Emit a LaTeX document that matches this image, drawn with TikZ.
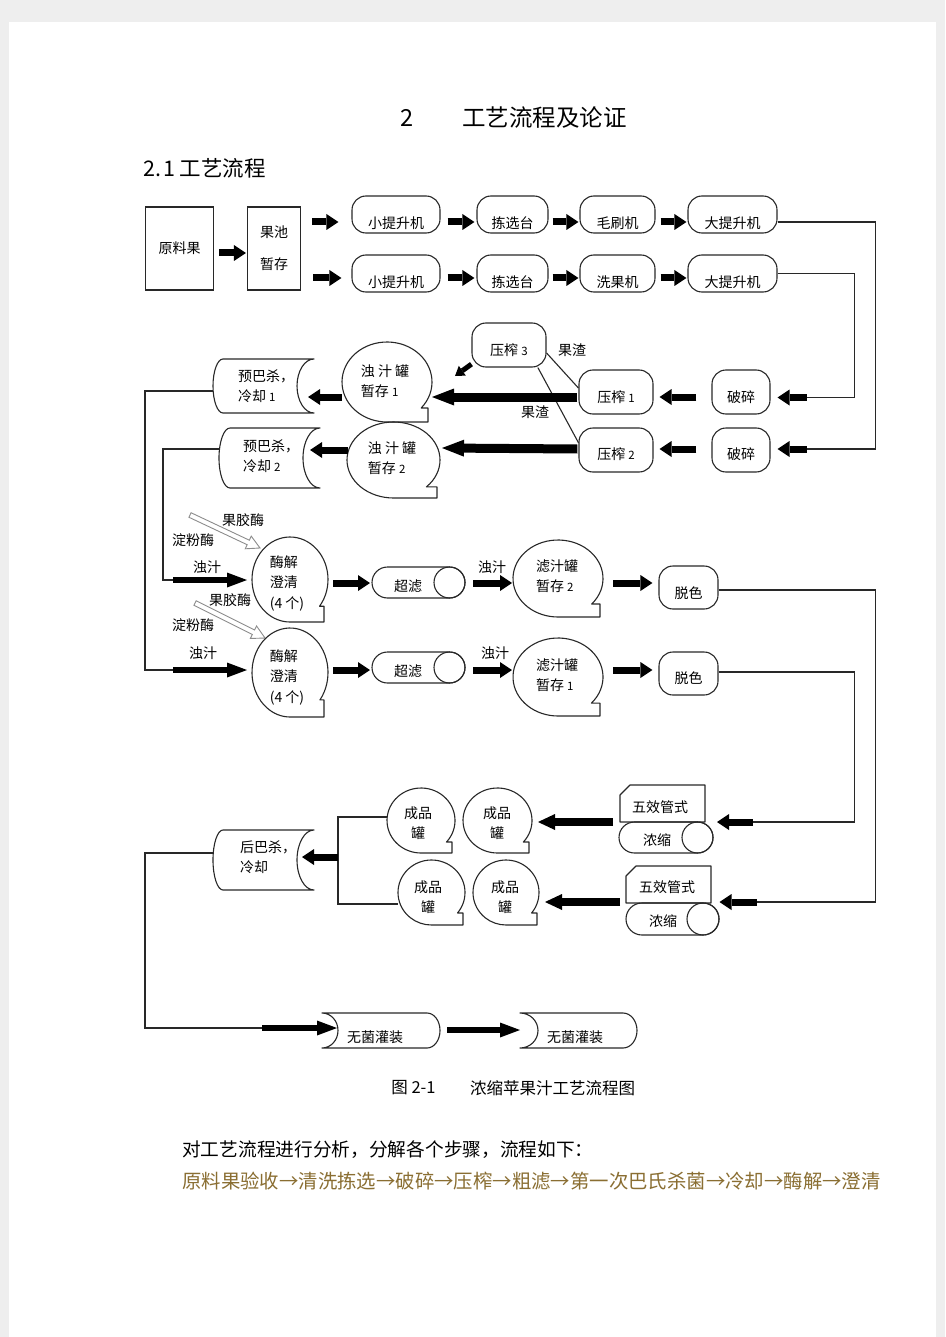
\documentclass[tikz,border=0pt]{standalone}
\usepackage{fontspec}
\setmainfont{Noto Sans CJK SC}
\usetikzlibrary{arrows.meta,calc}
\definecolor{ink}{RGB}{40,40,40}
\definecolor{pagebg}{RGB}{238,238,238}
\definecolor{oliv}{RGB}{138,110,50}
\definecolor{hollowc}{RGB}{140,140,140}
\newcommand\lblfont{\fontsize{14}{19.5}\selectfont}
\newcommand\smalldig[1]{{\fontsize{11.5}{12}\selectfont #1}}
\tikzset{
  outline/.style={draw=ink, line width=1.1pt, line join=round},
  lbl/.style={font=\lblfont, inner sep=0pt, align=left, text=black},
  ghost/.style={inner sep=0pt, outer sep=0pt, draw=none},
  rbox/.style={draw=ink, line width=1.1pt, rounded corners=14pt, inner sep=0pt},
  sqbox/.style={draw=ink, line width=1.1pt, inner sep=0pt, font=\lblfont, align=center},
  wire/.style={draw=ink, line width=1.1pt},
  wirethick/.style={draw=ink, line width=1.8pt},
  bar/.style={draw=black, line width=7pt, -{Triangle[length=12pt,width=16pt,line width=0pt]}},
  bartwo/.style={draw=black, line width=7.5pt, -{Triangle[length=17pt,width=16pt,line width=0pt]}},
  lbar/.style={draw=black, line width=6.5pt, -{Triangle[length=20pt,width=15pt,line width=0pt]}},
  bigbar/.style={draw=black, line width=9pt, -{Triangle[length=22pt,width=17pt,line width=0pt]}},
  sbar/.style={draw=black, line width=5pt, -{Triangle[length=9pt,width=12pt,line width=0pt]}},
  hollow/.style={draw=hollowc, line width=0.9pt, fill=white, line join=miter},
}
% bubble (tape) shape: name, cx, cy, rx, ry, tail x, lip angle
\newcommand\bubble[7]{%
  \node[ghost, minimum width=#4*2pt, minimum height=#5*2pt] (#1) at (#2,#3) {};
  \draw[outline] (#2,#3) ++(#7:#4 and #5) arc[start angle=#7, end angle=-270, x radius=#4, y radius=#5]
     -- (#6,{#3+#5}) -- (#6,{#3+#5*sin(#7)}) -- cycle;
}
% stored data "( (": name, x0, y0, x1, y1, left bulge, right bulge
\newcommand\sdata[7]{%
  \node[ghost, minimum width={(#4-#2+#6)*1pt}, minimum height={(#5-#3)*1pt}] (#1) at ({(#2-#6+#4)/2},{(#3+#5)/2}) {};
  \draw[outline] (#2,#3) -- (#4,#3) arc[start angle=270, end angle=90, x radius=#7, y radius={(#5-#3)/2}]
     -- (#2,#5) arc[start angle=90, end angle=270, x radius=#6, y radius={(#5-#3)/2}] -- cycle;
}
% mirrored stored data ") )"
\newcommand\sdatam[7]{%
  \node[ghost, minimum width={(#4-#2+#7)*1pt}, minimum height={(#5-#3)*1pt}] (#1) at ({(#2+#4+#7)/2},{(#3+#5)/2}) {};
  \draw[outline] (#2,#3) -- (#4,#3) arc[start angle=-90, end angle=90, x radius=#7, y radius={(#5-#3)/2}]
     -- (#2,#5) arc[start angle=90, end angle=-90, x radius=#6, y radius={(#5-#3)/2}] -- cycle;
}
% drum: name, x0, y0, x1, y1
\newcommand\drum[5]{%
  \node[ghost, minimum width={(#4-#2)*1pt}, minimum height={(#5-#3)*1pt}] (#1) at ({(#2+#4)/2},{(#3+#5)/2}) {};
  \draw[outline] ({#2+(#5-#3)/2},#3) -- ({#4-(#5-#3)/2},#3) arc[start angle=-90,end angle=90,radius={(#5-#3)/2}]
     -- ({#2+(#5-#3)/2},#5) arc[start angle=90,end angle=270,radius={(#5-#3)/2}] -- cycle;
  \draw[outline] ({#4-(#5-#3)/2},{(#3+#5)/2}) circle[radius={(#5-#3)/2}];
}
% card: name, x0, y0, x1, y1, cut
\newcommand\card[6]{%
  \node[ghost, minimum width={(#4-#2)*1pt}, minimum height={(#5-#3)*1pt}] (#1) at ({(#2+#4)/2},{(#3+#5)/2}) {};
  \draw[outline] (#2,{#3+#6}) -- ({#2+#6},#3) -- (#4,#3) -- (#4,#5) -- (#2,#5) -- cycle;
}
% hollow arrow: start coordinate, rotation, length
\newcommand\hollowarrow[3]{%
  \begin{scope}[shift={(#1)}, rotate=#2]
    \draw[hollow] (0,-2.5) -- ({#3-13},-2.5) -- ({#3-13},-7) -- (#3,0) -- ({#3-13},7) -- ({#3-13},2.5) -- (0,2.5) -- cycle;
  \end{scope}
}
\begin{document}
\begin{tikzpicture}[x=1pt,y=-1pt]
\useasboundingbox (0,0) rectangle (945,1337);
\fill[pagebg] (0,0) rectangle (945,1337);
\fill[white] (9,22) rectangle (936,1337);

% ---------- titles
\node[font=\fontsize{23.5}{28}\selectfont, inner sep=0] (chapno) at (407.5,118) {2};
\node[font=\fontsize{23.5}{28}\selectfont, inner sep=0] (chapttl) at (544.5,118) {工艺流程及论证};
\node[font=\fontsize{21.5}{26}\selectfont, inner sep=0, anchor=west] (secttl) at (143,168) {2.\hspace{2pt}1 工艺流程};

% ---------- row 1 / 2
\node[sqbox, minimum width=68pt, minimum height=83pt] (ylg) at (179.5,248.5) {原料果};
\node[sqbox, minimum width=53pt, minimum height=83pt] (gc) at (274,248.5) {果池\\[12.5pt]暂存};

\node[rbox, minimum width=88pt, minimum height=37pt, label={[lbl,yshift=-8.5pt]center:小提升机}] (xt1) at (396,214.5) {};
\node[rbox, minimum width=71pt, minimum height=37pt, label={[lbl,yshift=-8.5pt]center:拣选台}] (jx1) at (512.5,214.5) {};
\node[rbox, minimum width=75pt, minimum height=37pt, label={[lbl,yshift=-8.5pt]center:毛刷机}] (ms) at (617.5,214.5) {};
\node[rbox, minimum width=89pt, minimum height=37pt, label={[lbl,yshift=-8.5pt]center:大提升机}] (dt1) at (732.5,214.5) {};

\node[rbox, minimum width=88pt, minimum height=37pt, label={[lbl,yshift=-8.5pt]center:小提升机}] (xt2) at (396,273.5) {};
\node[rbox, minimum width=71pt, minimum height=37pt, label={[lbl,yshift=-8.5pt]center:拣选台}] (jx2) at (512.5,273.5) {};
\node[rbox, minimum width=75pt, minimum height=37pt, label={[lbl,yshift=-8.5pt]center:洗果机}] (xg) at (617.5,273.5) {};
\node[rbox, minimum width=89pt, minimum height=37pt, label={[lbl,yshift=-8.5pt]center:大提升机}] (dt2) at (732.5,273.5) {};

% ---------- pressing
\node[rbox, minimum width=58pt, minimum height=44pt, label={[lbl,yshift=-5pt]center:破碎}] (ps1) at (741,392) {};
\node[rbox, minimum width=58pt, minimum height=44pt, label={[lbl,yshift=-4pt]center:破碎}] (ps2) at (741,450) {};
\node[rbox, minimum width=74pt, minimum height=44pt, label={[lbl,yshift=-5pt]center:{压榨 \smalldig{1}}}] (yz1) at (616,392) {};
\node[rbox, minimum width=74pt, minimum height=44pt, label={[lbl,yshift=-4pt]center:{压榨 \smalldig{2}}}] (yz2) at (616,450) {};
\node[rbox, minimum width=74pt, minimum height=44pt, label={[lbl,yshift=-5pt]center:{压榨 \smalldig{3}}}] (yz3) at (509,345) {};
\node[lbl] (gz1) at (572,350) {果渣};
\node[lbl] (gz2) at (535,412) {果渣};

\bubble{tz1}{387}{382}{45}{40}{428}{40.5}
\bubble{tz2}{393.5}{460}{46.5}{38}{437}{45}
\node[lbl] (tz1t) at (385,381) {浊 汁 罐\\暂存 \smalldig{1}};
\node[lbl] (tz2t) at (392,458) {浊 汁 罐\\暂存 \smalldig{2}};

\sdata{yb1}{223}{359}{314}{413}{10}{17}
\sdata{yb2}{230}{428}{320}{488}{11}{17}
\node[lbl] (yb1t) at (266,386) {预巴杀，\\冷却 \smalldig{1}};
\node[lbl] (yb2t) at (271,456) {预巴杀，\\冷却 \smalldig{2}};

% ---------- enzyme / filtration
\coordinate (pe1) at (190,515);
\coordinate (pe2) at (195,603);
\hollowarrow{pe1}{-25.24}{77.4}
\hollowarrow{pe2}{-26.57}{78.3}

\bubble{mj1}{290}{579.5}{38}{42.5}{324}{39}
\bubble{mj2}{290}{672.5}{38}{44.5}{324}{38}
\node[lbl, font=\fontsize{14}{20.5}\selectfont] (mj1t) at (287,583) {酶解\\澄清\\(4 个)};
\node[lbl, font=\fontsize{14}{20.5}\selectfont] (mj2t) at (287,677) {酶解\\澄清\\(4 个)};

\node[lbl] (gj1) at (243,520) {果胶酶};
\node[lbl] (df1) at (193,540) {淀粉酶};
\node[lbl] (zz1) at (207,567) {浊汁};
\node[lbl] (gj2) at (230,600) {果胶酶};
\node[lbl] (df2) at (193,625) {淀粉酶};
\node[lbl] (zz2) at (203,653) {浊汁};

\drum{cl1}{372}{567}{465}{598}
\drum{cl2}{372}{652}{465}{683}
\node[lbl] (cl1t) at (408,586) {超滤};
\node[lbl] (cl2t) at (408,671) {超滤};
\node[lbl] (zz3) at (492,567) {浊汁};
\node[lbl] (zz4) at (495,653) {浊汁};

\bubble{lz1}{558}{578.5}{45}{38.5}{600}{41.5}
\bubble{lz2}{558}{677}{45}{39}{600}{42}
\node[lbl] (lz1t) at (557,576) {滤汁罐\\暂存 \smalldig{2}};
\node[lbl] (lz2t) at (557,675) {滤汁罐\\暂存 \smalldig{1}};

\node[rbox, minimum width=59pt, minimum height=43pt, label={[lbl,yshift=-5.5pt]center:脱色}] (tc1) at (688.5,587.5) {};
\node[rbox, minimum width=59pt, minimum height=43pt, label={[lbl,yshift=-4.5pt]center:脱色}] (tc2) at (688.5,673.5) {};

% ---------- concentration
\card{wx1}{620}{785}{705}{822}{10}
\drum{ns1}{619}{822}{713}{853}
\card{wx2}{626}{866}{711}{903}{10}
\drum{ns2}{626}{903}{719}{935}
\node[lbl] (wx1t) at (660,807) {五效管式};
\node[lbl] (ns1t) at (657,840) {浓缩};
\node[lbl] (wx2t) at (667,887) {五效管式};
\node[lbl] (ns2t) at (663,921) {浓缩};

\bubble{cp1}{421}{820.5}{34}{32.5}{452}{41.5}
\bubble{cp2}{497.5}{820.5}{34.5}{32.5}{529}{41.5}
\bubble{cp3}{431.5}{892.5}{33.5}{32.5}{463}{39}
\bubble{cp4}{506}{892.5}{33}{32.5}{537}{39}
\node[lbl, align=center] (cp1t) at (418,823) {成品\\罐};
\node[lbl, align=center] (cp2t) at (497,823) {成品\\罐};
\node[lbl, align=center] (cp3t) at (428,897) {成品\\罐};
\node[lbl, align=center] (cp4t) at (505,897) {成品\\罐};

\sdata{hb}{223}{830}{314}{890}{10}{17}
\node[lbl] (hbt) at (268,857) {后巴杀，\\冷却};

\sdatam{wj1}{322}{1013}{427}{1048}{16}{13}
\sdatam{wj2}{520}{1013}{623}{1048}{18}{14}
\node[lbl] (wj1t) at (375,1037) {无菌灌装};
\node[lbl] (wj2t) at (575,1037) {无菌灌装};

% ---------- connectors
\draw[bar] ($(ylg.east)+(5,4.5)$) -- ($(gc.west)+(-1,4.5)$);
\draw[bar] ($(gc.east |- xt1.center)+(11,7.5)$) -- ($(xt1.west)+(-13,7.5)$);
\draw[bar] ($(gc.east |- xt2.center)+(12,4.5)$) -- ($(xt2.west)+(-10,4.5)$);
\draw[bar] ($(xt1.east)+(7,7.5)$) -- ($(jx1.west)+(-2,7.5)$);
\draw[bar] ($(jx1.east)+(4,7.5)$) -- ($(ms.west)+(-1,7.5)$);
\draw[bar] ($(ms.east)+(5,7.5)$) -- ($(dt1.west)+(-1,7.5)$);
\draw[bar] ($(xt2.east)+(7,4.5)$) -- ($(jx2.west)+(-2,4.5)$);
\draw[bar] ($(jx2.east)+(4,4.5)$) -- ($(xg.west)+(-1,4.5)$);
\draw[bar] ($(xg.east)+(5,4.5)$) -- ($(dt2.west)+(-1,4.5)$);

\draw[wirethick] ($(dt1.east)+(0,7.5)$) -- ($(dt1.east)+(98,7.5)$) |- ($(ps2.east)+(36,-1)$);
\draw[bar] ($(ps2.east)+(36,-1)$) -- ($(ps2.east)+(7,-1)$);
\draw[wire] (dt2.east) -- ($(dt2.east)+(77,0)$) |- ($(ps1.east)+(36,5.5)$);
\draw[bar] ($(ps1.east)+(36,5.5)$) -- ($(ps1.east)+(7,5.5)$);

\draw[bar] ($(ps1.west)+(-15,5)$) -- ($(yz1.east)+(6,5)$);
\draw[bar] ($(ps2.west)+(-15,-1)$) -- ($(yz2.east)+(6,-1)$);
\draw[wire] (yz3.-12) -- (yz1.174);
\draw[wire] (yz3.-38) -- (yz2.169);
\coordinate (zzend) at (455,376);
\draw[sbar] (yz3.207) -- (zzend);

\draw[bigbar] ($(yz1.west)+(-1,5)$) -- ($(tz1.east)+(0,15)$);
\draw[bigbar] ($(yz2.west)+(-1,-1)$) -- ($(tz2.east)+(2,-12)$);
\draw[bar] ($(tz1.west)+(0,15)$) -- ($(yb1.east)+(-6,11)$);
\draw[bar] ($(tz2.west)+(1,-10)$) -- ($(yb2.east)+(-10,-8)$);

\draw[wire] ($(yb1.west)+(0,5)$) -- ($(yb1.west)+(-68,5)$) |- ($(mj2.west)+(-79,-2.5)$);
\draw[wire] ($(yb2.west)+(0,-9)$) -- ($(yb2.west)+(-56,-9)$) |- ($(mj1.west)+(-79,0.5)$);
\draw[lbar] ($(mj1.west)+(-79,0.5)$) -- ($(mj1.west)+(-5,0.5)$);
\draw[lbar] ($(mj2.west)+(-79,-2.5)$) -- ($(mj2.west)+(-5,-2.5)$);

\draw[bar] ($(mj1.east)+(5,3.5)$) -- ($(cl1.west)+(-2,0.5)$);
\draw[bar] ($(mj2.east)+(5,-2.5)$) -- ($(cl2.west)+(-2,2.5)$);
\draw[bar] ($(cl1.east)+(8,0.5)$) -- ($(lz1.west)+(-1,4.5)$);
\draw[bar] ($(cl2.east)+(8,2.5)$) -- ($(lz2.west)+(-1,-7)$);
\draw[bar] ($(lz1.east)+(10,4.5)$) -- ($(tc1.west)+(-6,-4.5)$);
\draw[bar] ($(lz2.east)+(10,-7)$) -- ($(tc2.west)+(-6,-3.5)$);

\draw[wirethick] ($(tc1.east)+(0,2.5)$) -- ($(tc1.east)+(157,2.5)$) |- ($(ns2.north east)+(38,-1)$);
\draw[bar] ($(ns2.north east)+(38,-1)$) -- ($(ns2.north east)+(0.5,-1)$);
\draw[wire] ($(tc2.east)+(0,-1.5)$) -- ($(tc2.east)+(136,-1.5)$) |- ($(ns1.north east)+(40,0)$);
\draw[bar] ($(ns1.north east)+(40,0)$) -- ($(ns1.north east)+(4,0)$);

\draw[bartwo] ($(wx1.south west)+(-7,0)$) -- ($(cp2.east)+(6,1.5)$);
\draw[bartwo] ($(wx2.south west)+(-6,-1)$) -- ($(cp4.east)+(6,9.5)$);

\draw[wire] ($(cp1.west)+(0,-3.5)$) -| ($(cp3.west)+(-60,11.5)$) -- ($(cp3.west)+(0,11.5)$);
\draw[bar] ($(hb.east)+(24,-3)$) -- ($(hb.east)+(-12,-3)$);

\draw[wire] ($(hb.west)+(0,-7)$) -- ($(hb.west)+(-68,-7)$) |- ($(wj1.west)+(-60,-2.5)$);
\draw[lbar] ($(wj1.west)+(-60,-2.5)$) -- ($(wj1.west)+(15,-2.5)$);
\draw[lbar] ($(wj1.east)+(7,-0.5)$) -- ($(wj2.west)+(0,-0.5)$);

% ---------- caption and text
\node[font=\fontsize{16.5}{20}\selectfont, inner sep=0] (cap1) at (413.5,1088) {图 2-1};
\node[font=\fontsize{16.5}{20}\selectfont, inner sep=0] (cap2) at (552.5,1088) {浓缩苹果汁工艺流程图};
\node[font=\fontsize{18.7}{22}\selectfont, inner sep=0, anchor=west] (para1) at (182,1150) {对工艺流程进行分析，分解各个步骤，流程如下：};
\node[font=\fontsize{19.4}{22}\selectfont, inner sep=0, anchor=west, text=oliv] (para2) at (182,1181) {原料果验收→清洗拣选→破碎→压榨→粗滤→第一次巴氏杀菌→冷却→酶解→澄清};
\end{tikzpicture}
\end{document}
